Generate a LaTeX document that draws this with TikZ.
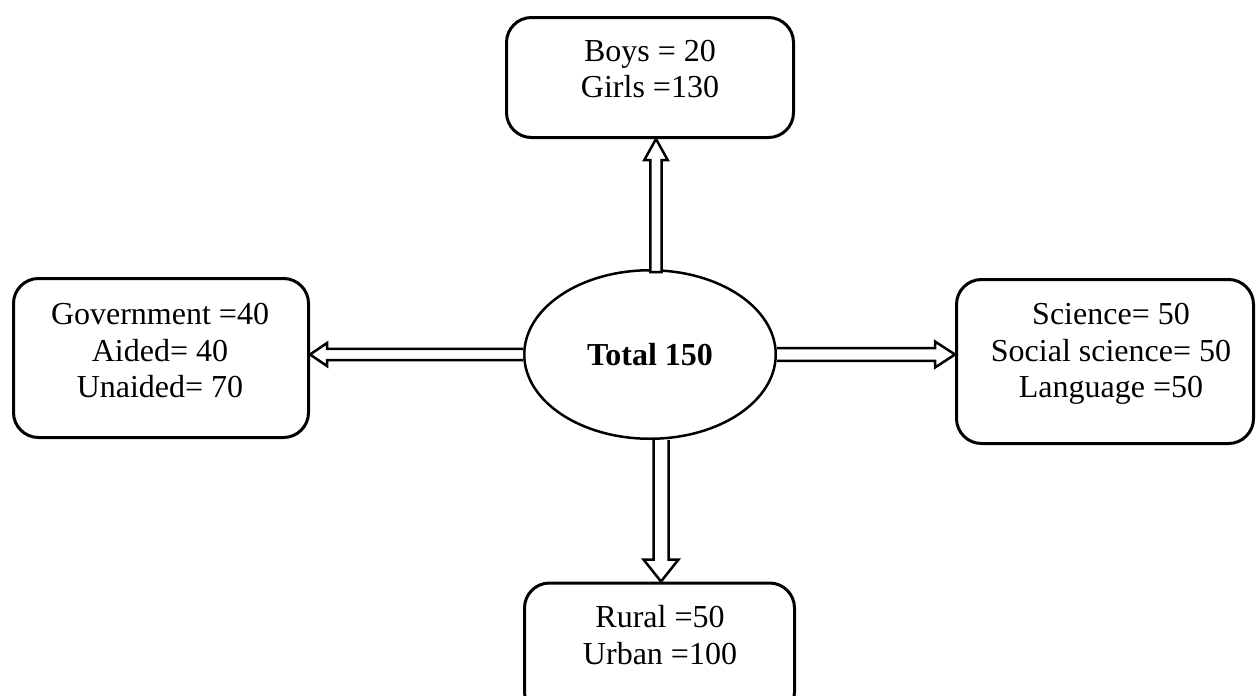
\documentclass[tikz,border=0pt]{standalone}
\usepackage{fontspec}
\setmainfont{Liberation Serif}
\usetikzlibrary{shapes.geometric,calc}
\begin{document}
\begin{tikzpicture}[x=1pt,y=-1pt,
  box/.style={draw,line width=3pt,rounded corners=25pt,inner sep=0pt},
  txt/.style={font=\fontsize{32}{36.5}\selectfont,align=center,inner sep=0pt},
  hub/.style={draw,ellipse,line width=2.5pt,inner sep=0pt,
    font=\fontsize{32}{36.5}\selectfont\bfseries},
  blk/.style={draw,line width=2.5pt,fill=white,line join=miter}]
\useasboundingbox (0,0) rectangle (1256,696);
\clip (0,0) rectangle (1256,696);

% central ellipse
\node[hub,minimum width=251.5pt,minimum height=168.5pt] (hub) at (650,354.5) {Total 150};

% surrounding boxes
\node[box,minimum width=287pt,minimum height=120pt] (top) at (650,77.5) {};
\node[txt] (toptxt) at (650,69) {Boys = 20\\Girls =130};

\node[box,minimum width=295pt,minimum height=159pt] (left) at (161,358) {};
\node[txt] (lefttxt) at (160,350.7) {Government =40\\Aided= 40\\Unaided= 70};

\node[box,minimum width=297pt,minimum height=164pt] (right) at (1105,361.5) {};
\node[txt] (righttxt) at (1111,354) {Science= 50\\Social science= 50\\Language =50};

\node[box,minimum width=270pt,minimum height=134pt] (bottom) at (659.5,650) {};
\node[txt] (bottomtxt) at (660,635) {Rural =50\\Urban =100};

% block arrow up
\path ($(hub.north)+(6,3)$) coordinate (u0) ($(top.south)+(6,0)$) coordinate (u1);
\draw[blk] ($(u0)+(-5.7,0)$) -- ($(u1)+(-5.7,21)$) -- ($(u1)+(-11.7,21)$) -- (u1)
  -- ($(u1)+(11.7,21)$) -- ($(u1)+(5.7,21)$) -- ($(u0)+(5.7,0)$) -- cycle;

% block arrow left
\path (hub.west) coordinate (l0) (left.east |- hub.west) coordinate (l1);
\draw[blk] ($(l0)+(0,-5.7)$) -- ($(l1)+(17,-5.7)$) -- ($(l1)+(17,-11.5)$) -- (l1)
  -- ($(l1)+(17,11.5)$) -- ($(l1)+(17,5.7)$) -- ($(l0)+(0,5.7)$);

% block arrow right
\path (hub.east) coordinate (r0) (right.west |- hub.east) coordinate (r1);
\draw[blk] ($(r0)+(0,-6.3)$) -- ($(r1)+(-20,-6.3)$) -- ($(r1)+(-20,-13)$) -- (r1)
  -- ($(r1)+(-20,13)$) -- ($(r1)+(-20,6.3)$) -- ($(r0)+(0,6.3)$);

% block arrow down
\path ($(bottom.north)+(1.5,0)$) coordinate (d1) (d1 |- hub.south) coordinate (d0);
\draw[blk] ($(d0)+(-7.5,0)$) -- ($(d1)+(-7.5,-22)$) -- ($(d1)+(-17.5,-22)$) -- (d1)
  -- ($(d1)+(17.5,-22)$) -- ($(d1)+(7.5,-22)$) -- ($(d0)+(7.5,0)$);
\end{tikzpicture}
\end{document}
